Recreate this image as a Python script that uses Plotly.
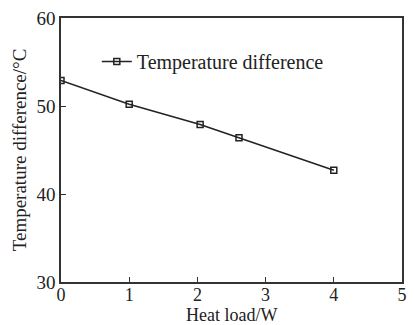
import plotly.graph_objects as go

heat_load = [0.0, 1.0, 2.04, 2.61, 4.0]
temp_diff = [52.9, 50.2, 47.9, 46.4, 42.7]
x_ticks = [0, 1, 2, 3, 4, 5]
y_ticks = [30, 40, 50, 60]

FONT = "Liberation Serif"
INK = "#222222"

fig = go.Figure()
fig.add_trace(go.Scatter(
    x=heat_load, y=temp_diff, mode="lines+markers",
    name="Temperature difference",
    line=dict(color=INK, width=1.5),
    marker=dict(symbol="square-open", size=6, color=INK, line=dict(width=1.5, color=INK)),
))

fig.update_layout(
    width=414, height=325,
    margin=dict(l=61, r=12, t=18, b=43),
    paper_bgcolor="white", plot_bgcolor="white",
    font=dict(family=FONT, size=19, color=INK),
    showlegend=True,
    legend=dict(x=0.105, y=0.835, xanchor="left", yanchor="middle",
                bgcolor="rgba(0,0,0,0)", font=dict(family=FONT, size=20, color=INK)),
    xaxis=dict(
        range=[0, 5], tickvals=x_ticks, ticktext=[str(v) for v in x_ticks],
        ticks="inside", ticklen=5, tickwidth=1.2, tickcolor="#333",
        showline=True, linecolor="#333", linewidth=1.5, mirror=True,
        showgrid=False, zeroline=False, ticklabelstandoff=-4, automargin=False,
        tickfont=dict(family=FONT, size=18, color=INK),
    ),
    yaxis=dict(
        range=[30, 60], tickvals=y_ticks, ticktext=[str(v) for v in y_ticks],
        ticks="inside", ticklen=5, tickwidth=1.2, tickcolor="#333",
        showline=True, linecolor="#333", linewidth=1.5, mirror=True,
        showgrid=False, zeroline=False, automargin=False,
        title=dict(text="Temperature difference/°C", font=dict(family=FONT, size=19, color=INK), standoff=5),
        tickfont=dict(family=FONT, size=19, color=INK),
    ),
    annotations=[dict(
        text="Heat load/W", xref="paper", yref="paper", x=0.5, y=-0.125,
        xanchor="center", yanchor="middle", showarrow=False,
        font=dict(family=FONT, size=18, color=INK),
    )],
)

fig.write_html("out.html")
